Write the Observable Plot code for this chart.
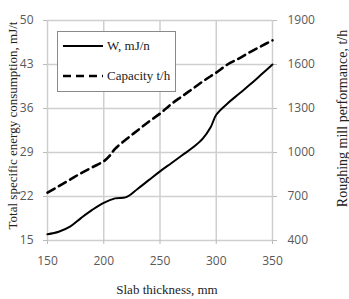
<!DOCTYPE html>
<html><head><meta charset="utf-8">
<script src="https://cdn.jsdelivr.net/npm/d3@7"></script>
<script src="https://cdn.jsdelivr.net/npm/@observablehq/plot@0.6"></script>
<style>
body{margin:0;background:#fff;}
#wrap{position:relative;width:349px;height:299px;}
#legend{position:absolute;left:57px;top:31px;width:117px;height:59px;border:1px solid #8a8a8a;background:#fff;font-family:"Liberation Serif",serif;font-size:13px;color:#222;}
#legend .row{position:absolute;left:5px;display:flex;align-items:center;}
#legend svg{display:block;margin-right:4px;}
</style></head>
<body><div id="wrap"><div id="legend"></div></div>
<script>
const thicknessW = [150,160,170,180,190,200,210,220,230,240,250,260,270,280,288,295,300,310,320,330,340,350];
const energyW    = [16.0,16.4,17.2,18.6,19.9,21.0,21.7,21.9,23.2,24.6,26.0,27.3,28.6,29.9,31.2,33.0,35.0,36.8,38.3,39.8,41.4,43.0];
const thicknessC = [150,160,170,180,190,200,205,210,220,230,240,250,260,270,280,290,300,310,320,330,340,350];
const capacity   = [727,770,815,860,900,940,975,1025,1090,1150,1210,1265,1330,1385,1440,1495,1545,1600,1640,1685,1725,1765];
const xTicks = [150,200,250,300,350];
const leftTicks = [15,22,29,36,43,50];
const rightTicks = [400,700,1000,1300,1600,1900];
const seriesNames = ["W, mJ/n","Capacity t/h"];

const toLeft = v => 15 + (v - 400) / 1500 * 35;
const toRight = v => String(Math.round(400 + (v - 15) / 35 * 1500));

const wData = thicknessW.map((t,i)=>({t, v: energyW[i]}));
const cData = thicknessC.map((t,i)=>({t, v: toLeft(capacity[i])}));

const tickFont = {fontFamily:"'Open Sans', sans-serif", fontSize:12, fill:"#595959"};
const titleFont = {fontFamily:"'Liberation Serif', serif", fill:"#222", textAnchor:"middle"};
const chart = Plot.plot({
  width:349, height:299,
  marginLeft:47, marginRight:77, marginTop:20, marginBottom:59,
  style:{fontFamily:"'Open Sans', sans-serif", fontSize:"12px", color:"#595959", background:"#fff"},
  x:{domain:[150,350]},
  y:{domain:[15,50]},
  marks:[
    Plot.gridX(xTicks,{stroke:"#cfcfcf", strokeOpacity:1, strokeWidth:1.5}),
    Plot.gridY(leftTicks,{stroke:"#cfcfcf", strokeOpacity:1, strokeWidth:1.5}),
    Plot.axisX(xTicks,{tickSize:4, tickPadding:12, stroke:"#bbb", label:null, ...tickFont}),
    Plot.axisY(leftTicks,{anchor:"left", tickSize:4, tickPadding:10, stroke:"#bbb", label:null, ...tickFont}),
    Plot.axisY(rightTicks.map(toLeft),{anchor:"right", tickSize:4, tickPadding:11, stroke:"#bbb", label:null, tickFormat:toRight, ...tickFont}),
    Plot.line(wData,{x:"t", y:"v", stroke:"#000", strokeWidth:2, curve:"catmull-rom"}),
    Plot.line(cData,{x:"t", y:"v", stroke:"#000", strokeWidth:2.6, strokeDasharray:"8,5", curve:"catmull-rom"}),
    Plot.text(["Slab thickness, mm"],{frameAnchor:"bottom", dx:7, dy:53, fontSize:13, ...titleFont}),
    Plot.text(["Total specific energy consumption, mJ/t"],{frameAnchor:"left", rotate:-90, dx:-35, dy:-5, fontSize:13, ...titleFont}),
    Plot.text(["Roughing mill performance, t/h"],{frameAnchor:"right", rotate:-90, dx:70, dy:-12, fontSize:14, ...titleFont})
  ]
});
document.getElementById("wrap").prepend(chart);

const leg = document.getElementById("legend");
seriesNames.forEach((name,i)=>{
  const row = document.createElement("div");
  row.className="row";
  row.style.top = (i===0 ? 6 : 36) + "px";
  row.innerHTML = `<svg width="40" height="16"><line x1="0" x2="40" y1="8" y2="8" stroke="#000" stroke-width="${i?2.6:2}" ${i?'stroke-dasharray="8,5"':''}/></svg><span>${name}</span>`;
  leg.appendChild(row);
});
</script></body></html>
